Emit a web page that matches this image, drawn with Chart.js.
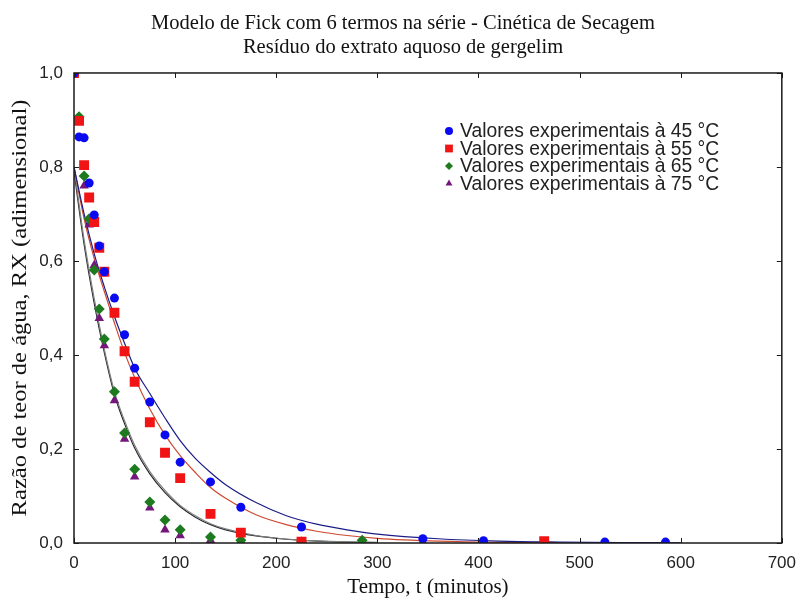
<!DOCTYPE html>
<html>
<head>
<meta charset="utf-8">
<script src="https://cdn.jsdelivr.net/npm/chart.js@4"></script>
<style>
  body { margin: 0; background: #fff; }
  canvas { display: block; }
</style>
</head>
<body>
<canvas id="secagem" width="806" height="602"></canvas>
<script>
// experimental points, one array pair per temperature
const time45 = [0, 5, 10, 15, 20, 25, 30, 40, 50, 60, 75, 90, 105, 135, 165, 225, 345, 405, 525, 585];
const rx45 = [1.0, 0.864, 0.862, 0.766, 0.698, 0.632, 0.577, 0.521, 0.443, 0.372, 0.300, 0.230, 0.172, 0.130, 0.076, 0.034, 0.009, 0.005, 0.002, 0.002];

const time55 = [0, 5, 10, 15, 20, 25, 30, 40, 50, 60, 75, 90, 105, 135, 165, 225, 465];
const rx55 = [1.0, 0.898, 0.804, 0.735, 0.683, 0.628, 0.577, 0.490, 0.408, 0.343, 0.257, 0.192, 0.138, 0.062, 0.022, 0.003, 0.004];

const time65 = [0, 5, 10, 15, 20, 25, 30, 40, 50, 60, 75, 90, 105, 135, 165, 225, 285];
const rx65 = [1.0, 0.907, 0.781, 0.690, 0.581, 0.498, 0.434, 0.322, 0.234, 0.157, 0.087, 0.049, 0.028, 0.013, 0.006, 0.002, 0.006];

const time75 = [0, 5, 10, 15, 20, 25, 30, 40, 50, 60, 75, 90, 105, 135, 165, 225, 345];
const rx75 = [1.0, 0.898, 0.760, 0.677, 0.591, 0.478, 0.420, 0.303, 0.221, 0.141, 0.075, 0.028, 0.016, 0.006, 0.004, 0.002, 0.002];

// fitted Fick curves
const fitTime = [0, 10, 20, 30, 40, 50, 60, 75, 90, 105, 120, 135, 150, 180, 210, 240, 270, 300, 360, 420, 480, 540, 600];
const fit45 = [0.80, 0.70, 0.615, 0.545, 0.482, 0.425, 0.372, 0.318, 0.266, 0.218, 0.180, 0.150, 0.124, 0.086, 0.058, 0.040, 0.028, 0.019, 0.009, 0.004, 0.002, 0.001, 0.0005];
const fit55 = [0.80, 0.69, 0.605, 0.535, 0.468, 0.405, 0.352, 0.285, 0.230, 0.186, 0.150, 0.118, 0.095, 0.060, 0.039, 0.025, 0.016, 0.010, 0.004, 0.0015, 0.001];
const fit65 = [0.80, 0.645, 0.52, 0.412, 0.322, 0.26, 0.208, 0.152, 0.112, 0.080, 0.058, 0.041, 0.030, 0.016, 0.0085, 0.0045, 0.0024, 0.0013];
const fit75 = [0.79, 0.635, 0.51, 0.405, 0.316, 0.254, 0.202, 0.147, 0.107, 0.077, 0.055, 0.039, 0.028, 0.015, 0.008, 0.004, 0.002, 0.001];

const xTicks = [0, 100, 200, 300, 400, 500, 600, 700];
const yTicks = [0, 0.2, 0.4, 0.6, 0.8, 1.0];

const legendLabels = [
  "Valores experimentais à 45 °C",
  "Valores experimentais à 55 °C",
  "Valores experimentais à 65 °C",
  "Valores experimentais à 75 °C",
];
const yTitle = "Razão de teor de água, RX (adimensional)";

function toPoints(xs, ys) {
  return ys.map((y, i) => ({ x: xs[i], y: y }));
}

function pointSet(label, xs, ys, color, style, radius) {
  return {
    label: label,
    data: toPoints(xs, ys),
    showLine: false,
    pointStyle: style,
    pointRadius: radius,
    pointBackgroundColor: color,
    pointBorderColor: color,
    pointBorderWidth: 0,
    clip: 0,
  };
}

function curveSet(ys, color) {
  return {
    label: "",
    data: toPoints(fitTime, ys),
    showLine: true,
    borderColor: color,
    borderWidth: 1.2,
    pointRadius: 0,
    cubicInterpolationMode: "monotone",
    clip: 0,
  };
}

const sans = "'Liberation Sans', Arial, sans-serif";
const serif = "'Liberation Serif', 'Times New Roman', serif";

// frame, inward ticks, y title and the legend
const framePlugin = {
  id: "frame",
  afterDraw(chart) {
    const ctx = chart.ctx;
    const area = chart.chartArea;
    const xs = chart.scales.x;
    const ys = chart.scales.y;
    ctx.save();
    ctx.strokeStyle = "#1a1a1a";
    ctx.lineWidth = 1.5;
    ctx.strokeRect(area.left, area.top, area.right - area.left, area.bottom - area.top);

    ctx.lineWidth = 1;
    ctx.beginPath();
    xTicks.forEach((v) => {
      const px = Math.round(xs.getPixelForValue(v)) + 0.5;
      ctx.moveTo(px, area.bottom);
      ctx.lineTo(px, area.bottom - 5);
      ctx.moveTo(px, area.top);
      ctx.lineTo(px, area.top + 5);
    });
    yTicks.forEach((v) => {
      const py = Math.round(ys.getPixelForValue(v)) + 0.5;
      ctx.moveTo(area.left, py);
      ctx.lineTo(area.left + 5, py);
      ctx.moveTo(area.right, py);
      ctx.lineTo(area.right - 5, py);
    });
    ctx.stroke();

    // y title is taller in the original than its font, so stretch it along the text
    ctx.save();
    ctx.translate(20, (area.top + area.bottom) / 2);
    ctx.rotate(-Math.PI / 2);
    ctx.scale(1.17, 1);
    ctx.font = "21px " + serif;
    ctx.fillStyle = "#111";
    ctx.textAlign = "center";
    ctx.textBaseline = "middle";
    ctx.fillText(yTitle, 0, 0);
    ctx.restore();

    // legend
    ctx.font = "19.3px " + sans;
    ctx.textBaseline = "middle";
    for (let i = 0; i < 4; i++) {
      const ds = chart.data.datasets[i];
      const y = 131 + i * 17.5;
      ctx.fillStyle = ds.pointBackgroundColor;
      ctx.strokeStyle = ds.pointBackgroundColor;
      Chart.helpers.drawPoint(ctx, {
        pointStyle: ds.pointStyle,
        radius: ds.pointStyle === "rect" ? 5.5 : 4,
        borderWidth: 0,
        rotation: 0,
      }, 449, y);
      ctx.fillStyle = "#222";
      ctx.fillText(legendLabels[i], 460, y + 1);
    }
    ctx.restore();
  },
};

new Chart(document.getElementById("secagem"), {
  type: "scatter",
  data: {
    datasets: [
      pointSet(legendLabels[0], time45, rx45, "#0a0af0", "circle", 4.5),
      pointSet(legendLabels[1], time55, rx55, "#f01414", "rect", 7),
      pointSet(legendLabels[2], time65, rx65, "#1e7a1e", "rectRot", 5.5),
      pointSet(legendLabels[3], time75, rx75, "#74167c", "triangle", 5.5),
      curveSet(fit45, "#1c1c86"),
      curveSet(fit55, "#cc4a30"),
      curveSet(fit65, "#7a847a"),
      curveSet(fit75, "#2c2434"),
    ],
  },
  options: {
    responsive: false,
    animation: false,
    devicePixelRatio: 1,
    // equal side padding keeps the title centred on the page
    layout: { padding: { left: 10, right: 10, top: 0, bottom: 0 } },
    plugins: {
      legend: { display: false },
      tooltip: { enabled: false },
      title: {
        display: true,
        text: [
          "Modelo de Fick com 6 termos na série - Cinética de Secagem",
          "Resíduo do extrato aquoso de gergelim",
        ],
        color: "#111",
        font: { family: serif, size: 20.5, weight: "normal", lineHeight: 1.17 },
        padding: { top: 12, bottom: 13 },
      },
    },
    scales: {
      x: {
        type: "linear",
        min: 0,
        max: 700,
        afterFit: (scale) => { scale.height = 59; },
        grid: { display: false, drawTicks: false },
        border: { display: false },
        ticks: {
          stepSize: 100,
          padding: 10,
          color: "#222",
          font: { family: sans, size: 17 },
        },
        title: {
          display: true,
          text: "Tempo, t (minutos)",
          color: "#111",
          font: { family: serif, size: 21, lineHeight: 1.2 },
          padding: { top: 0, bottom: 2 },
        },
      },
      y: {
        type: "linear",
        min: 0,
        max: 1,
        afterFit: (scale) => { scale.width = 64; },
        grid: { display: false, drawTicks: false },
        border: { display: false },
        ticks: {
          stepSize: 0.2,
          padding: 11,
          color: "#222",
          font: { family: sans, size: 17 },
          callback: (value) => value.toFixed(1).replace(".", ","),
        },
        title: { display: false },
      },
      // empty right axis, only to leave the margin on the right
      yRight: {
        type: "linear",
        position: "right",
        min: 0,
        max: 1,
        afterFit: (scale) => { scale.width = 10; },
        grid: { display: false, drawTicks: false },
        border: { display: false },
        ticks: { display: false },
      },
    },
  },
  plugins: [framePlugin],
});
</script>
</body>
</html>
